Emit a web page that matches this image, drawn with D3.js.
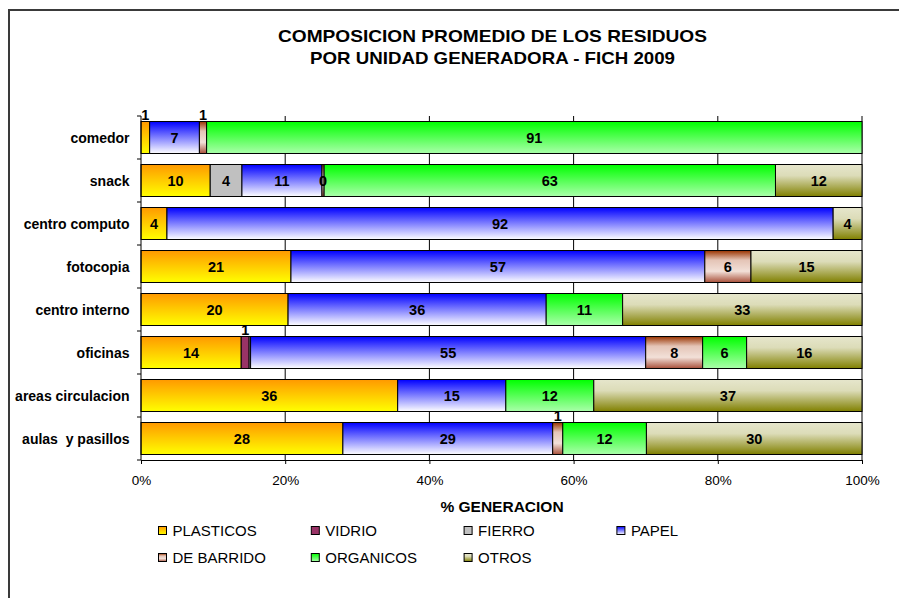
<!DOCTYPE html>
<html>
<head>
<meta charset="utf-8">
<script src="https://cdn.jsdelivr.net/npm/d3@7"></script>
<style>
  body { margin: 0; background: #fff; }
  text { font-family: "Liberation Sans", Arial, sans-serif; fill: #000; }
</style>
</head>
<body>
<div id="chart"></div>
<script>
const categories = ["comedor", "snack", "centro computo", "fotocopia", "centro interno",
    "oficinas", "areas circulacion", "aulas  y pasillos"];
const seriesNames = ["PLASTICOS", "VIDRIO", "FIERRO", "PAPEL", "DE BARRIDO", "ORGANICOS", "OTROS"];

// % per unidad, null = not present
const plasticos = [1.2, 9.6, 3.6, 20.8, 20.4, 13.9, 35.6, 28.0];
const vidrio    = [null, null, null, null, null, 1.1, null, null];
const fierro    = [null, 4.4, null, null, null, 0.2, null, null];
const papel     = [6.9, 11.1, 92.4, 57.4, 35.8, 54.8, 15.0, 29.1];
const barrido   = [1.0, 0.3, null, 6.4, null, 7.9, null, 1.4];
const organicos = [90.9, 62.6, null, null, 10.6, 6.1, 12.2, 11.6];
const otros     = [null, 12.0, 4.0, 15.4, 33.2, 16.0, 37.2, 29.9];

const xTicks = [0, 20, 40, 60, 80, 100];

const seriesValues = [plasticos, vidrio, fierro, papel, barrido, organicos, otros];

// gradient stops (top -> bottom) per series
const fills = [
    [["0%", "#ff9900"], ["100%", "#ffff00"]],
    [["0%", "#993366"], ["100%", "#993366"]],
    [["0%", "#c0c0c0"], ["100%", "#c0c0c0"]],
    [["0%", "#0000ff"], ["100%", "#ffffff"]],
    [["0%", "#993300"], ["30%", "#e4c4b6"], ["65%", "#f2e0d8"], ["100%", "#a8503a"]],
    [["0%", "#00ff00"], ["100%", "#aaffaa"]],
    [["0%", "#e6e6cc"], ["35%", "#dcdcb8"], ["100%", "#808000"]]
];

const W = 899, H = 598;
const margin = {left: 141, right: 37, top: 116, bottom: 138};

const svg = d3.select("#chart").append("svg")
    .attr("width", W)
    .attr("height", H);

svg.append("rect").attr("width", W).attr("height", H).attr("fill", "#fff");
svg.append("rect")
    .attr("x", 9).attr("y", 10)
    .attr("width", 1000).attr("height", 800)
    .attr("fill", "none")
    .attr("stroke", "#3a3a3a")
    .attr("stroke-width", 2);

const defs = svg.append("defs");
fills.forEach((stops, i) => {
    const g = defs.append("linearGradient")
        .attr("id", "grad" + i)
        .attr("x1", 0).attr("y1", 0).attr("x2", 0).attr("y2", 1);
    stops.forEach(s => g.append("stop").attr("offset", s[0]).attr("stop-color", s[1]));
});

const x = d3.scaleLinear().domain([0, 100]).range([margin.left, W - margin.right]);
const y = d3.scaleBand().domain(categories)
    .range([margin.top, H - margin.bottom])
    .paddingInner(0.256)
    .paddingOuter(0.128);

// title
const title = svg.append("g").attr("font-weight", "bold").attr("font-size", "17px");
title.append("text")
    .attr("x", 492.5).attr("y", 42)
    .attr("text-anchor", "middle")
    .attr("textLength", 429).attr("lengthAdjust", "spacingAndGlyphs")
    .text("COMPOSICION PROMEDIO DE LOS RESIDUOS");
title.append("text")
    .attr("x", 492.5).attr("y", 63.5)
    .attr("text-anchor", "middle")
    .attr("textLength", 365).attr("lengthAdjust", "spacingAndGlyphs")
    .text("POR UNIDAD GENERADORA - FICH 2009");

// gridlines
svg.append("g")
    .selectAll("line")
    .data(xTicks.slice(1))
    .enter()
    .append("line")
    .attr("x1", d => x(d)).attr("x2", d => x(d))
    .attr("y1", margin.top).attr("y2", H - margin.bottom)
    .attr("stroke", "#000")
    .attr("stroke-width", 1);

// stacked segments
const segments = [];
categories.forEach((c, ci) => {
    let acc = 0;
    seriesValues.forEach((vals, si) => {
        const v = vals[ci];
        if (v === null) return;
        segments.push({cat: c, series: si, start: acc, value: v});
        acc += v;
    });
});

svg.append("g")
    .selectAll("rect")
    .data(segments)
    .enter()
    .append("rect")
    .attr("x", d => x(d.start))
    .attr("y", d => y(d.cat))
    .attr("width", d => x(d.start + d.value) - x(d.start))
    .attr("height", y.bandwidth())
    .attr("fill", d => `url(#grad${d.series})`)
    .attr("stroke", "#000")
    .attr("stroke-width", 1);

// axes
const xAxis = svg.append("g")
    .attr("transform", `translate(0,${H - margin.bottom})`)
    .call(d3.axisBottom(x).tickValues(xTicks).tickFormat(d => d + "%").tickSize(4).tickSizeOuter(0));
xAxis.select(".domain").attr("stroke", "#000");
xAxis.selectAll("text")
    .attr("y", 25).attr("dy", 0)
    .attr("font-size", "13.5px")
    .attr("font-family", "Liberation Sans, Arial, sans-serif");

const bounds = d3.range(categories.length + 1).map(i => margin.top + i * y.step());
const leftAxis = svg.append("g");
leftAxis.append("line")
    .attr("x1", margin.left).attr("x2", margin.left)
    .attr("y1", margin.top).attr("y2", H - margin.bottom)
    .attr("stroke", "#000");
leftAxis.selectAll(".tk")
    .data(bounds)
    .enter()
    .append("line")
    .attr("x1", margin.left - 4).attr("x2", margin.left)
    .attr("y1", d => d).attr("y2", d => d)
    .attr("stroke", "#000");

const yAxis = svg.append("g")
    .attr("transform", `translate(${margin.left},0)`)
    .call(d3.axisLeft(y).tickSize(0).tickPadding(11.5));
yAxis.select(".domain").remove();
yAxis.selectAll("text")
    .attr("font-size", "14px")
    .attr("font-weight", "bold")
    .attr("font-family", "Liberation Sans, Arial, sans-serif")
    .style("white-space", "pre")
    .attr("dy", "0.36em");

// data labels
const fmt = d3.format(".0f");
svg.append("g")
    .selectAll("text")
    .data(segments.filter(d => d.value >= 0.25))
    .enter()
    .append("text")
    .attr("x", d => x(d.start + d.value / 2))
    .attr("y", d => {
        if (d.value >= 0.5 && d.value < 2) return y(d.cat) - 2;
        return y(d.cat) + y.bandwidth() / 2 + 5.5;
    })
    .attr("text-anchor", "middle")
    .attr("font-size", "14.5px")
    .attr("font-weight", "bold")
    .text(d => fmt(d.value));

// axis title
svg.append("text")
    .attr("x", 502).attr("y", 512)
    .attr("text-anchor", "middle")
    .attr("font-size", "15.5px")
    .attr("font-weight", "bold")
    .text("% GENERACION");

// legend
const legend = svg.append("g")
    .selectAll("g")
    .data(seriesNames)
    .enter()
    .append("g")
    .attr("transform", (d, i) => `translate(${158 + (i % 4) * 152.8},${i < 4 ? 536 : 563})`);
legend.append("rect")
    .attr("x", 0.5).attr("y", -9.5)
    .attr("width", 8).attr("height", 8)
    .attr("fill", (d, i) => `url(#grad${i})`)
    .attr("stroke", "#000")
    .attr("stroke-width", 1);
legend.append("text")
    .attr("x", 14.5)
    .attr("y", 0)
    .attr("font-size", "15px")
    .text(d => d);
</script>
</body>
</html>
